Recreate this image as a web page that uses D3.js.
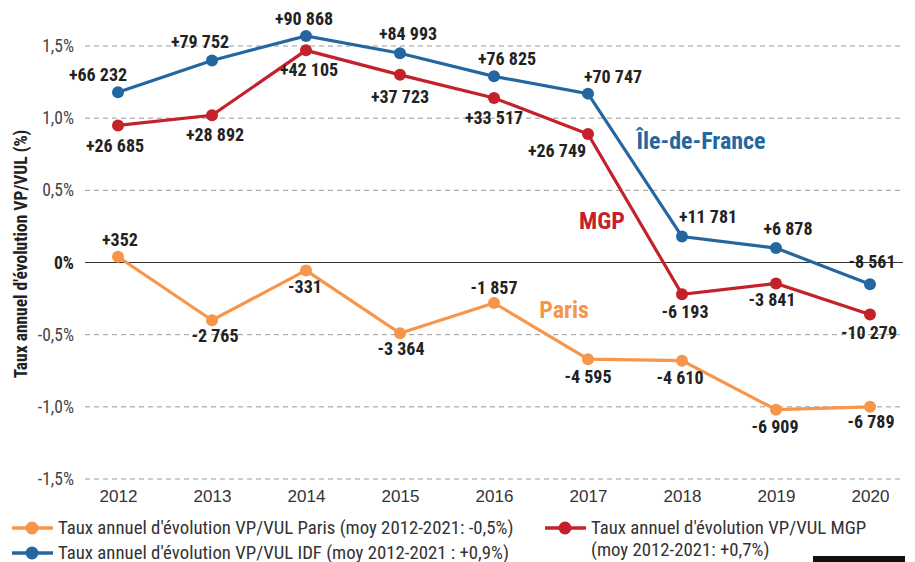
<!DOCTYPE html>
<html>
<head>
<meta charset="utf-8">
<script src="https://cdn.jsdelivr.net/npm/d3@7"></script>
<style>
  body { margin: 0; background: #fff; }
  svg { display: block; font-family: "Roboto Condensed", "Liberation Sans Narrow", "DejaVu Sans Condensed", Roboto, sans-serif; }
</style>
</head>
<body>
<div id="chart"></div>
<script>
// years on the x axis
var years = [2012, 2013, 2014, 2015, 2016, 2017, 2018, 2019, 2020];

// annual rate (%)
var idfRate   = [1.18, 1.40, 1.57, 1.45, 1.29, 1.17, 0.18, 0.10, -0.15];
var mgpRate   = [0.95, 1.02, 1.47, 1.30, 1.14, 0.89, -0.22, -0.145, -0.36];
var parisRate = [0.04, -0.40, -0.055, -0.49, -0.28, -0.67, -0.68, -1.02, -1.00];

// point labels (net change in vehicles)
var idfLabels   = ["+66 232", "+79 752", "+90 868", "+84 993", "+76 825", "+70 747", "+11 781", "+6 878", "-8 561"];
var mgpLabels   = ["+26 685", "+28 892", "+42 105", "+37 723", "+33 517", "+26 749", "-6 193", "-3 841", "-10 279"];
var parisLabels = ["+352", "-2 765", "-331", "-3 364", "-1 857", "-4 595", "-4 610", "-6 909", "-6 789"];

var yTicks = [1.5, 1.0, 0.5, 0, -0.5, -1.0, -1.5];

// label offsets (dx, dy) relative to each point
var idfOffsets   = [[-20,-11],[-12,-12],[-2,-11],[8,-13],[13,-11],[25,-11],[26,-14],[12,-13],[2,-16]];
var mgpOffsets   = [[-3,27],[3,26],[3,26],[0,28],[0,26],[-31,23],[3,24],[-4,23],[-1,25]];
var parisOffsets = [[2,-11],[3,22],[-1,23],[1,22],[0,-9],[0,24],[-2,23],[-1,23],[1,21]];

var width = 915, height = 562;

var svg = d3.select("#chart").append("svg")
    .attr("width", width)
    .attr("height", height);

var x = d3.scalePoint().domain(years).range([118, 870]);
var y = d3.scaleLinear().domain([-1.5, 1.5]).range([479, 46]);

// grid
svg.append("g")
  .selectAll("line")
  .data(yTicks)
  .join("line")
    .attr("x1", 85).attr("x2", 903)
    .attr("y1", d => y(d)).attr("y2", d => y(d))
    .attr("stroke", d => d === 0 ? "#333" : "#999")
    .attr("stroke-width", d => d === 0 ? 1.2 : 1)
    .attr("stroke-dasharray", d => d === 0 ? null : "5,4");

// y tick labels
svg.append("g")
  .selectAll("text")
  .data(yTicks)
  .join("text")
    .attr("x", 74)
    .attr("y", d => y(d) + 6)
    .attr("text-anchor", "end")
    .attr("font-size", 17.5)
    .attr("font-weight", d => d === 0 ? "bold" : "normal")
    .attr("fill", d => d === 0 ? "#222" : "#444")
    .text(d => d === 0 ? "0%" : d3.format(".1f")(d).replace(".", ",").replace("−", "-") + "%");

// x axis labels
var xAxis = d3.axisBottom(x).tickSize(0).tickPadding(0);
var gx = svg.append("g").attr("transform", "translate(0,490)").call(xAxis);
gx.select(".domain").remove();
gx.selectAll("text")
    .attr("font-size", 17)
    .attr("fill", "#333")
    .attr("font-family", null);

// y axis title
svg.append("text")
    .attr("transform", "translate(27,254) rotate(-90)")
    .attr("text-anchor", "middle")
    .attr("font-size", 17.5)
    .attr("font-weight", "bold")
    .attr("fill", "#222")
    .text("Taux annuel d'évolution VP/VUL (%)");

var series = [
  { name: "Paris", values: parisRate, labels: parisLabels, offsets: parisOffsets, color: "#f7964a" },
  { name: "MGP", values: mgpRate, labels: mgpLabels, offsets: mgpOffsets, color: "#c5212a" },
  { name: "IDF", values: idfRate, labels: idfLabels, offsets: idfOffsets, color: "#2467a0" }
];

var line = d3.line()
    .x((d, i) => x(years[i]))
    .y(d => y(d));

series.forEach(function (s) {
    svg.append("path")
        .datum(s.values)
        .attr("fill", "none")
        .attr("stroke", s.color)
        .attr("stroke-width", 3.2)
        .attr("d", line);

    svg.append("g")
      .selectAll("circle")
      .data(s.values)
      .join("circle")
        .attr("cx", (d, i) => x(years[i]))
        .attr("cy", d => y(d))
        .attr("r", 6)
        .attr("fill", s.color);
});

series.forEach(function (s) {
    svg.append("g")
      .selectAll("text")
      .data(s.values)
      .join("text")
        .attr("x", (d, i) => x(years[i]) + s.offsets[i][0])
        .attr("y", (d, i) => y(d) + s.offsets[i][1])
        .attr("text-anchor", "middle")
        .attr("font-size", 18)
        .attr("font-weight", "bold")
        .attr("fill", "#222")
        .text((d, i) => s.labels[i]);
});

// series names on the chart
var seriesNames = [
  { text: "Île-de-France", x: 701, y: 149, color: "#2467a0" },
  { text: "MGP", x: 602, y: 229, color: "#c5212a" },
  { text: "Paris", x: 564, y: 318, color: "#f7964a" }
];
svg.append("g")
  .selectAll("text")
  .data(seriesNames)
  .join("text")
    .attr("x", d => d.x)
    .attr("y", d => d.y)
    .attr("text-anchor", "middle")
    .attr("font-size", 24)
    .attr("font-weight", "bold")
    .attr("fill", d => d.color)
    .text(d => d.text);

// legend
var legendItems = [
  { lines: ["Taux annuel d'évolution VP/VUL Paris (moy 2012-2021: -0,5%)"], color: "#f7964a", x: 12, y: 528 },
  { lines: ["Taux annuel d'évolution VP/VUL MGP", "(moy 2012-2021: +0,7%)"], color: "#c5212a", x: 545, y: 528 },
  { lines: ["Taux annuel d'évolution VP/VUL IDF (moy 2012-2021 : +0,9%)"], color: "#2467a0", x: 12, y: 553 }
];
var lg = svg.append("g")
  .selectAll("g")
  .data(legendItems)
  .join("g")
    .attr("transform", d => "translate(" + d.x + "," + d.y + ")");
lg.append("line")
    .attr("x1", 0).attr("x2", 41)
    .attr("stroke", d => d.color)
    .attr("stroke-width", 3.5);
lg.append("circle")
    .attr("cx", 20).attr("r", 6.5)
    .attr("fill", d => d.color);
lg.each(function (d) {
    d3.select(this).selectAll("text")
      .data(d.lines)
      .join("text")
        .attr("x", 46)
        .attr("y", (t, i) => 6 + i * 22)
        .attr("font-size", 18.8)
        .attr("fill", "#333")
        .text(t => t);
});

// black bar bottom right
svg.append("rect")
    .attr("x", 813).attr("y", 556)
    .attr("width", 92).attr("height", 6)
    .attr("fill", "#111");
</script>
</body>
</html>
